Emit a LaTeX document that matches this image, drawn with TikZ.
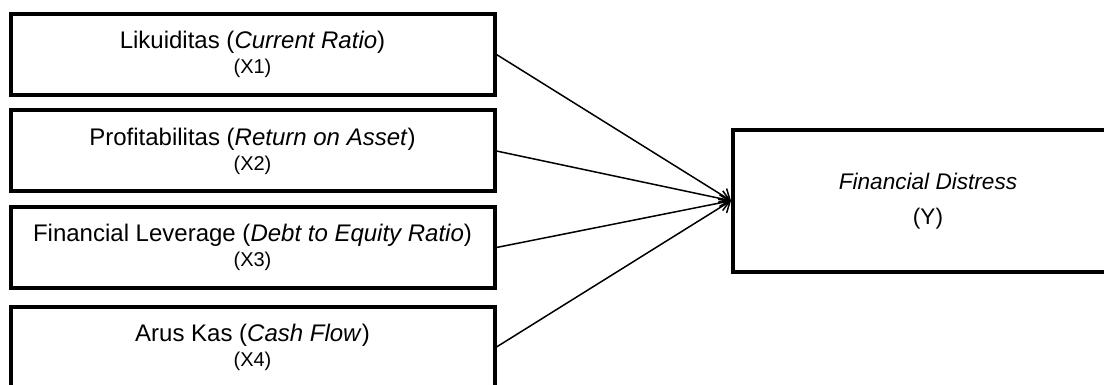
\documentclass[tikz,border=0pt]{standalone}
\usepackage{fontspec}
\setmainfont{Liberation Sans}
\usetikzlibrary{arrows.meta}

\begin{document}
\begin{tikzpicture}[x=0.5pt, y=-0.5pt,
	var/.style={draw=black, line width=2pt, minimum width=242pt, minimum height=40.5pt, align=center, inner sep=0pt, font=\fontsize{12}{12.5}\selectfont},
	ybox/.style={draw=black, line width=2pt, minimum width=195pt, minimum height=70.75pt, align=center, inner sep=0pt, font=\fontsize{11.3}{17.5}\selectfont},
	pfeil/.style={black, line width=0.75pt, -{Straight Barb[length=4.5pt,width=8pt]}}]
	\useasboundingbox (0,0) rectangle (1104,385);
	\clip (0,0) rectangle (1104,385);
	\node[var] (x1) at (252.5, 54.5) {Likuiditas (\textit{Current Ratio})\\{\fontsize{10}{10}\selectfont (X1)}};
	\node[var] (x2) at (252.5, 151) {Profitabilitas (\textit{Return on Asset})\\{\fontsize{10}{10}\selectfont (X2)}};
	\node[var] (x3) at (252.5, 247.5) {Financial Leverage (\textit{Debt to Equity Ratio})\\{\fontsize{10}{10}\selectfont (X3)}};
	\node[var] (x4) at (252.5, 347) {Arus Kas (\textit{Cash Flow})\\{\fontsize{10}{10}\selectfont (X4)}};
	\node[ybox] (y) at (928, 200.75) {\textit{Financial Distress}\\(Y)};
	\draw[pfeil] (x1.east) -- (y.west);
	\draw[pfeil] (x2.east) -- (y.west);
	\draw[pfeil] (x3.east) -- (y.west);
	\draw[pfeil] (x4.east) -- (y.west);
\end{tikzpicture}
\end{document}
